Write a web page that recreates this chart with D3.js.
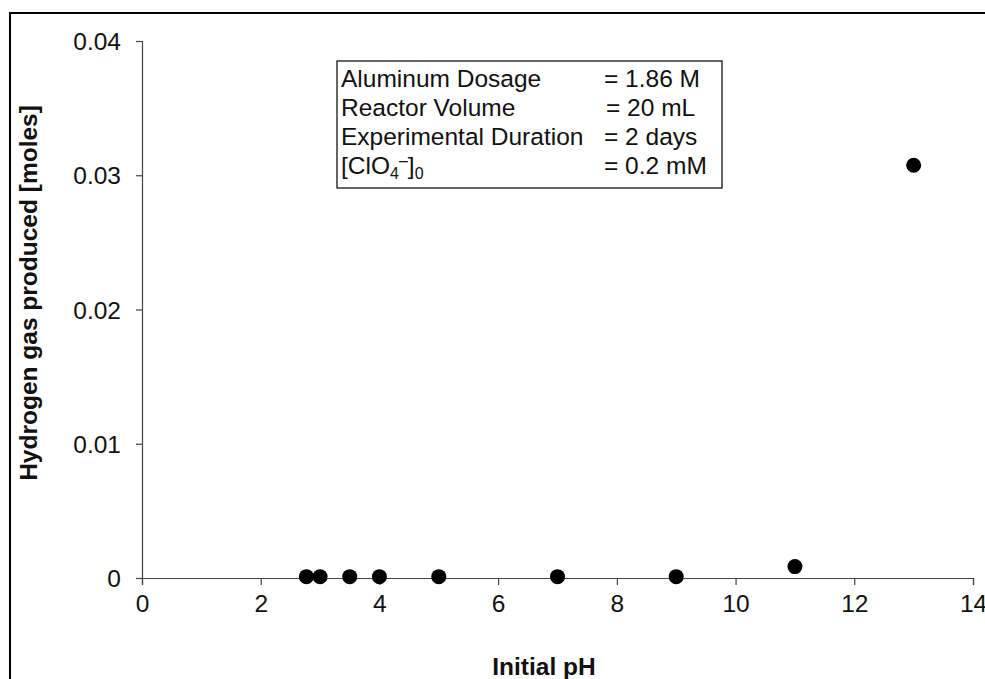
<!DOCTYPE html>
<html>
<head>
<meta charset="utf-8">
<script src="https://cdn.jsdelivr.net/npm/d3@7"></script>
<style>
  body { margin: 0; background: #fff; }
  svg { display: block; font-family: "Liberation Sans", Arial, sans-serif; }
</style>
</head>
<body>
<svg id="chart"></svg>
<script>
// Data
const initialPH = [2.77, 3, 3.5, 4, 5, 7, 9, 11, 13];
const hydrogenMoles = [0.0001, 0.0001, 0.0001, 0.0001, 0.0001, 0.0001, 0.0001, 0.00085, 0.03075];
const xTicks = [0, 2, 4, 6, 8, 10, 12, 14];
const yTicks = [0, 0.01, 0.02, 0.03, 0.04];
const noteLabels = ["Aluminum Dosage", "Reactor Volume", "Experimental Duration", "[ClO4-]0"];
const noteValues = ["= 1.86 M", "= 20 mL", "= 2 days", "= 0.2 mM"];

const W = 985, H = 679;
const margin = { top: 41, right: 12, bottom: 101, left: 142 };
const fs = "24.5px";

const svg = d3.select("#chart")
    .attr("width", W)
    .attr("height", H);

// outer frame (runs off the right and bottom edges)
svg.append("rect")
    .attr("x", 10).attr("y", 13)
    .attr("width", W + 20).attr("height", H + 20)
    .attr("fill", "none")
    .attr("stroke", "#000")
    .attr("stroke-width", 2);

const x = d3.scaleLinear().domain([0, 14]).range([margin.left, W - margin.right]);
const y = d3.scaleLinear().domain([0, 0.04]).range([H - margin.bottom, margin.top]);

// x axis
const xAxis = svg.append("g")
    .attr("transform", `translate(0,${y(0)})`)
    .call(d3.axisBottom(x).tickValues(xTicks).tickSize(7).tickPadding(10).tickFormat(d3.format("d")));

// y axis
const yAxis = svg.append("g")
    .attr("transform", `translate(${x(0)},0)`)
    .call(d3.axisLeft(y).tickValues(yTicks).tickSize(6).tickPadding(15).tickFormat(d => d === 0 ? "0" : d3.format(".2f")(d)));

[xAxis, yAxis].forEach(g => {
    g.select(".domain").attr("stroke", "#444").attr("stroke-width", 1.2);
    g.selectAll(".tick line").attr("stroke", "#444").attr("stroke-width", 1.2);
    g.selectAll(".tick text")
        .attr("fill", "#111")
        .style("font-size", fs)
        .style("font-family", "'Liberation Sans', Arial, sans-serif");
});
xAxis.selectAll(".tick text").attr("dy", "0.68em");
yAxis.selectAll(".tick text").attr("dy", "0.35em");

// points
svg.append("g")
    .selectAll("circle")
    .data(initialPH.map((p, i) => ({ p, h: hydrogenMoles[i] })))
    .enter()
    .append("circle")
    .attr("cx", d => x(d.p))
    .attr("cy", d => y(d.h))
    .attr("r", 7.5)
    .attr("fill", "#000");

// axis titles
svg.append("text")
    .attr("x", 544).attr("y", 675)
    .attr("text-anchor", "middle")
    .attr("font-weight", "bold")
    .attr("font-size", fs)
    .attr("fill", "#111")
    .text("Initial pH");

svg.append("text")
    .attr("transform", `translate(37,293) rotate(-90)`)
    .attr("text-anchor", "middle")
    .attr("font-weight", "bold")
    .attr("font-size", fs)
    .attr("fill", "#111")
    .text("Hydrogen gas produced [moles]");

// note box
const note = svg.append("g");
note.append("rect")
    .attr("x", 337).attr("y", 61)
    .attr("width", 385).attr("height", 127)
    .attr("fill", "#fff")
    .attr("stroke", "#000")
    .attr("stroke-width", 1.2);

const rowY = d3.scalePoint().domain(d3.range(noteLabels.length)).range([87, 174]);

noteLabels.forEach((label, i) => {
    const t = note.append("text")
        .attr("x", 341).attr("y", rowY(i))
        .attr("font-size", fs)
        .attr("fill", "#111");
    if (label === "[ClO4-]0") {
        t.append("tspan").text("[ClO");
        t.append("tspan").attr("font-size", "16px").attr("dy", 5).text("4");
        t.append("tspan").attr("font-size", "16px").attr("dy", -13).text("\u2013");
        t.append("tspan").attr("dy", 8).text("]");
        t.append("tspan").attr("font-size", "16px").attr("dy", 5).text("0");
    } else {
        t.text(label);
    }
});

noteValues.forEach((v, i) => {
    note.append("text")
        .attr("x", i === 1 ? 606 : 604).attr("y", rowY(i))
        .attr("font-size", fs)
        .attr("fill", "#111")
        .text(v);
});
</script>
</body>
</html>
